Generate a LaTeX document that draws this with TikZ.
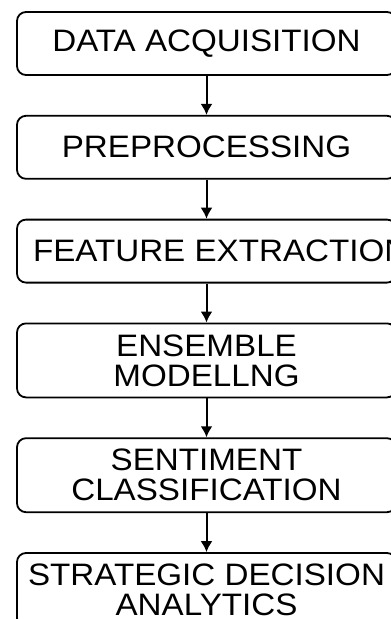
\documentclass[tikz,border=0pt]{standalone}
\usepackage{fontspec}
\setmainfont{Liberation Sans}[FakeStretch=1.07]
\usetikzlibrary{arrows.meta,shapes,chains}
\usetikzlibrary{positioning}

\begin{document}
\begin{tikzpicture}[%
    x=1pt, y=1pt,
    >={Latex[length=11pt,width=12pt]}, % filled arrow heads
    start chain=going below,    % flow is top-to-bottom
    node distance=39pt,         % gap between boxes
    every join/.style={norm},   % arrow between consecutive boxes
    ]
% -------------------------------------------------
% box styles
\tikzset{
  base/.style={draw, line width=1.8pt, rounded corners=9pt, on chain, align=center,
    minimum width=379pt, minimum height=63pt, inner sep=2pt,
    font=\fontsize{31}{30}\selectfont},
  stepbox/.style={base},
  stepboxtall/.style={base, minimum height=74pt},
  % -------------------------------------------------
  norm/.style={->, draw, black, line width=2pt}
  }
% -------------------------------------------------
\useasboundingbox (0,0) rectangle (391,-619);
\clip (0,0) rectangle (391,-619);

% the steps, one under the other
\node [stepbox, at={(206.5,-43.5)}] (acq) {DATA ACQUISITION};
\node [stepbox, join] (pre) {PREPROCESSING};
\node [stepbox, join] (feat) {\makebox[347pt][l]{FEATURE EXTRACTION}};
\node [stepboxtall, join] (ens) {ENSEMBLE\\ MODELLNG};
\node [stepboxtall, join] (sent) {SENTIMENT\\ CLASSIFICATION};
\node [stepboxtall, join] (strat) {STRATEGIC DECISION\\ ANALYTICS};
\end{tikzpicture}
\end{document}
